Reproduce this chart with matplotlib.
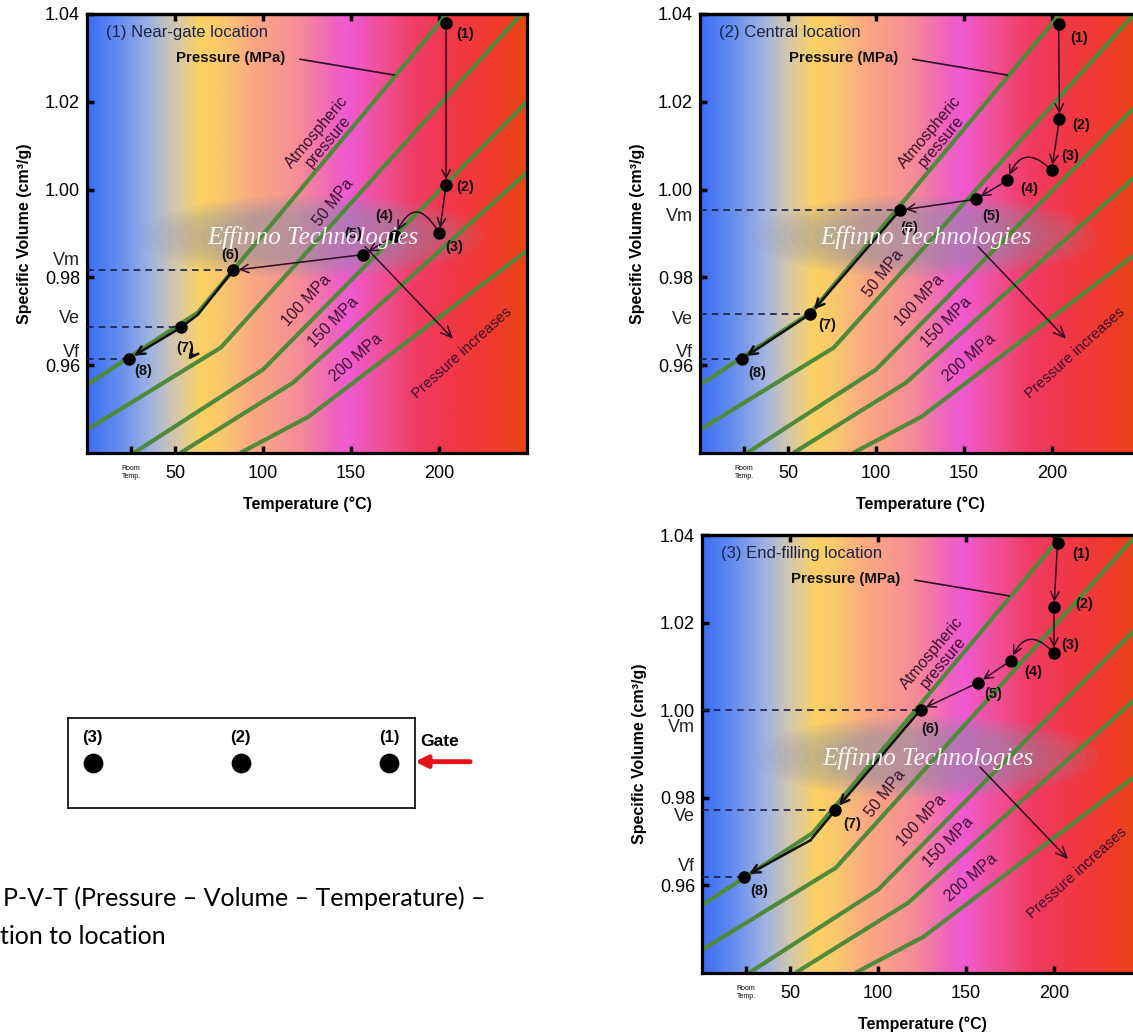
import numpy as np
import matplotlib
matplotlib.use('Agg')
import matplotlib.pyplot as plt
from matplotlib import font_manager
from matplotlib.colors import LinearSegmentedColormap
from matplotlib.patches import Ellipse

# isobars, same in every panel (temperature degC / specific volume cm3/g vertices)
iso_labels = ['Atmospheric\npressure', '50 MPa', '100 MPa', '150 MPa', '200 MPa']
iso_t = [[0, 63, 215], [0, 76, 250], [26.6, 100, 250], [53, 117, 250], [87, 126, 250]]
iso_v = [[0.9555, 0.972, 1.045], [0.9453, 0.964, 1.0414],
         [0.940, 0.959, 1.020], [0.940, 0.956, 1.0039], [0.940, 0.9483, 0.9861]]

# process states (1)..(8) per location
titles = ['(1) Near-gate location', '(2) Central location', '(3) End-filling location']
near_t = [204, 204, 200.2, 175, 157, 83, 53.4, 24]
near_v = [1.0379, 1.001, 0.990, 0.9895, 0.9852, 0.9816, 0.9686, 0.9615]
central_t = [203.8, 204.2, 199.8, 174.7, 156.7, 113.6, 62.7, 23.8]
central_v = [1.0377, 1.016, 1.0044, 1.0021, 0.9978, 0.9953, 0.9717, 0.9614]
end_t = [202, 200, 200, 175.4, 157, 124.2, 75.8, 24]
end_v = [1.0381, 1.0235, 1.013, 1.0113, 1.0063, 1.0001, 0.9772, 0.9620]

# bend of the atmospheric isobar the cooling path follows
near_via = (63, 0.9715)     # between (6) and (7)
end_via = (61.6, 0.9703)    # between (7) and (8)

vlabels = ['Vm', 'Ve', 'Vf']
xtick_vals = [50, 100, 150, 200]
ytick_vals = [0.96, 0.98, 1.00, 1.02, 1.04]

locations = ['(3)', '(2)', '(1)']
caption1 = 'P-V-T (Pressure \u2013 Volume \u2013 Temperature) \u2013'
caption2 = 'tion to location'

# background colour ramp along temperature
grad_t = [0, 17, 36, 51, 64, 76, 93, 121, 140, 149, 168, 187, 206, 235, 250]
grad_col = ['#3c6ef5', '#648cf0', '#a0b4e1', '#d8c8a8', '#fad264', '#fac86e', '#faaa82',
            '#f58c96', '#f064be', '#f05ad2', '#f05096', '#f03c64', '#f0374b', '#f03c28', '#e64614']


def pick(*names):
    avail = {f.name for f in font_manager.fontManager.ttflist}
    for n in names:
        if n in avail:
            return n
    return 'DejaVu Sans'


SANS = pick('Liberation Sans Narrow', 'Liberation Sans')
SERIF = pick('Liberation Serif', 'DejaVu Serif')
CAP = pick('Lato', 'Open Sans', 'Noto Sans')
plt.rcParams['font.family'] = [SANS, 'DejaVu Sans']

GREEN = '#4f8a3a'
ARROW = '#2d0b24'
LABEL = '#3a0f30'
DASH = '#1a1f4a'

cmap = LinearSegmentedColormap.from_list('pvt', list(zip(np.array(grad_t) / 250.0, grad_col)))

W, H = 1133, 1035
fig = plt.figure(figsize=(W / 100, H / 100), dpi=100)


def box(x0, y0, w, h):
    return [x0 / W, 1 - (y0 + h) / H, w / W, h / H]


def panel(rect, title, pt, pv, lab_pos, via67=None, via78=None, curl=0.9, vlab_y=None, extra_head=False):
    ax = fig.add_axes(rect)
    ax.set_xlim(0, 250)
    ax.set_ylim(0.94, 1.04)
    ax.imshow(np.linspace(0, 1, 600)[None, :], cmap=cmap, extent=[0, 250, 0.94, 1.04],
              aspect='auto', zorder=0)

    # watermark
    for k in range(7):
        s = 1 - k * 0.07
        ax.add_patch(Ellipse((127.5, 0.9893), 195 * s, 0.0187 * s, color='#8a90aa',
                             alpha=0.1, lw=0, zorder=1))
    ax.text(128.5, 0.9890, 'Effinno Technologies', family=SERIF, style='italic',
            fontsize=18, color='white', alpha=0.92, ha='center', va='center', zorder=7)

    for t, v in zip(iso_t, iso_v):
        ax.plot(t, v, color=GREEN, lw=3, solid_capstyle='butt', zorder=2)

    rots = [50, 52, 47, 45, 41]
    for (lt, lv), txt, r in zip(lab_pos, iso_labels, rots):
        ax.text(lt, lv, txt, rotation=r, rotation_mode='anchor', ha='center', va='center',
                fontsize=11.5, color=LABEL, linespacing=1.0, zorder=3)
    ax.text(213, 0.9628, 'Pressure increases', rotation=42, rotation_mode='anchor',
            ha='center', va='center', fontsize=10.8, color=LABEL, zorder=3)
    ax.annotate('', xy=(208, 0.966), xytext=(158, 0.987),
                arrowprops=dict(arrowstyle='->,head_length=0.8,head_width=0.35',
                                color=ARROW, lw=1.1, shrinkA=0, shrinkB=0), zorder=4)

    ax.text(10.8, 1.0357, title, fontsize=12, color='#1b2448', ha='left', va='center')
    ax.text(81.4, 1.0299, 'Pressure (MPa)', fontsize=10.8, fontweight='bold', ha='center',
            va='center', color='#111111')
    ax.plot([121, 174.5], [1.0297, 1.0261], color=ARROW, lw=1.2, zorder=4)

    # dashed read-outs for Vm, Ve, Vf
    for i in (5, 6, 7):
        ax.plot([0, pt[i]], [pv[i], pv[i]], ls=(0, (4, 3)), color=DASH, lw=1.2, zorder=4)
    tr = ax.get_yaxis_transform()
    for name, y in zip(vlabels, vlab_y):
        ax.text(-0.016, y, name, transform=tr, ha='right', va='center', fontsize=13,
                color='#222222')

    thin = dict(arrowstyle='->,head_length=0.6,head_width=0.3', color=ARROW, lw=1.1,
                shrinkA=4, shrinkB=4)
    thick = dict(thin, color='#111111', lw=1.8)
    for i in range(7):
        a, b = (pt[i], pv[i]), (pt[i + 1], pv[i + 1])
        kw = dict(thick) if i >= 5 else dict(thin)
        if i == 2:
            kw['connectionstyle'] = 'arc3,rad=%g' % curl
        if i == 5 and via67 is not None:
            ax.plot([a[0], via67[0], b[0]], [a[1], via67[1], b[1]], color='#111111', lw=1.8, zorder=5)
            continue
        if i == 6 and via78 is not None:
            ax.plot([a[0], via78[0]], [a[1], via78[1]], color='#111111', lw=1.8, zorder=5)
            kw['shrinkA'] = 0
            a = via78
        ax.annotate('', xy=b, xytext=a, arrowprops=kw, zorder=5)
    if extra_head:
        ax.annotate('', xy=(57.5, 0.9612), xytext=(60, 0.9625),
                    arrowprops=dict(thick, shrinkA=0, shrinkB=0), zorder=5)

    ax.plot(pt, pv, 'o', color='black', ms=8, zorder=6)
    for i, (t, v) in enumerate(zip(pt, pv)):
        ax.annotate('(%d)' % (i + 1), (t, v), xytext=offsets_of[title][i], textcoords='offset points',
                    ha='center', va='center', fontsize=10.5, fontweight='bold', color='#111111', zorder=6)

    ax.set_xticks(xtick_vals)
    ax.set_xticklabels([str(x) for x in xtick_vals], fontsize=13)
    ax.set_xticks([25], minor=True)
    ax.set_xticklabels(['Room\nTemp.'], minor=True, fontsize=5)
    ax.set_yticks(ytick_vals)
    ax.set_yticklabels(['%.2f' % y for y in ytick_vals], fontsize=13)
    ax.tick_params(which='both', direction='in', length=5, width=2.5, color='black')
    ax.tick_params(axis='x', which='both', pad=9)
    ax.tick_params(axis='y', pad=5)
    sec = ax.secondary_xaxis('top')
    sec.set_xticks(xtick_vals)
    sec.tick_params(direction='in', length=5, width=2.5, labeltop=False)
    sec.spines['top'].set_linewidth(2.3)
    for s in ax.spines.values():
        s.set_linewidth(2.3)
    ax.set_xlabel('Temperature (\u00b0C)', fontsize=11.5, fontweight='bold')
    ax.xaxis.set_label_coords(0.5, -0.10)
    ax.set_ylabel('Specific Volume (cm\u00b3/g)', fontsize=11.5, fontweight='bold')
    ax.yaxis.set_label_coords(-0.125, 0.5)
    return ax


offsets_of = {
    titles[0]: [(14, -8), (14, -1), (11, -10), (-8, 14), (-7, 15), (-2, 11), (3, -15), (10, -9)],
    titles[1]: [(15, -10), (16, -4), (13, 10), (16, -6), (11, -12), (7, -13), (12, -8), (11, -10)],
    titles[2]: [(17, -8), (22, 2), (12, 6), (16, -8), (11, -8), (7, -14), (12, -10), (11, -10)],
}

lab_default = [(134, 1.012), (104, 0.981), (125, 0.9748), (140, 0.9698), (153, 0.9618)]
lab_near = [(134, 1.012), (140, 0.997), (125, 0.9748), (140, 0.9698), (153, 0.9618)]

panel(box(87, 14, 440, 439), titles[0], near_t, near_v, lab_near, via67=near_via,
      curl=1.0, vlab_y=[0.9838, 0.9706, 0.9630], extra_head=True)
panel(box(700, 14, 440, 439), titles[1], central_t, central_v, lab_default,
      curl=0.8, vlab_y=[0.9939, 0.9704, 0.9629])
panel(box(702, 535, 440, 438), titles[2], end_t, end_v, lab_default, via78=end_via,
      curl=0.8, vlab_y=[0.9961, 0.9757, 0.9644])

# mould cavity sketch with the three sensor locations
dg = fig.add_axes(box(68.3, 718.3, 346.7, 89.4))
dg.set_xlim(0, 1)
dg.set_ylim(0, 1)
dg.set_xticks([])
dg.set_yticks([])
for s in dg.spines.values():
    s.set_linewidth(1.2)
loc_x = np.linspace(0.070, 0.925, len(locations))
dg.scatter(loc_x, [0.497] * len(locations), s=175, color='black', zorder=3)
for x, name in zip(loc_x, locations):
    dg.text(x, 0.79, name, ha='center', va='center', fontsize=12, fontweight='bold')
dg.text(1.016, 0.738, 'Gate', ha='left', va='center', fontsize=12.5, fontweight='bold',
        transform=dg.transAxes, clip_on=False)
dg.annotate('', xy=(1.0, 0.515), xytext=(1.159, 0.515), xycoords='axes fraction',
            arrowprops=dict(arrowstyle='-|>,head_length=0.7,head_width=0.35', color='#e3121b',
                            lw=3.5, shrinkA=0, shrinkB=0), annotation_clip=False)

fig.text(3.3 / W, 1 - 898 / H, caption1, family=[CAP, 'DejaVu Sans'], fontsize=18, va='center')
fig.text(0.0, 1 - 937 / H, caption2, family=[CAP, 'DejaVu Sans'], fontsize=18, va='center')

fig.savefig('out.png', dpi=100)
